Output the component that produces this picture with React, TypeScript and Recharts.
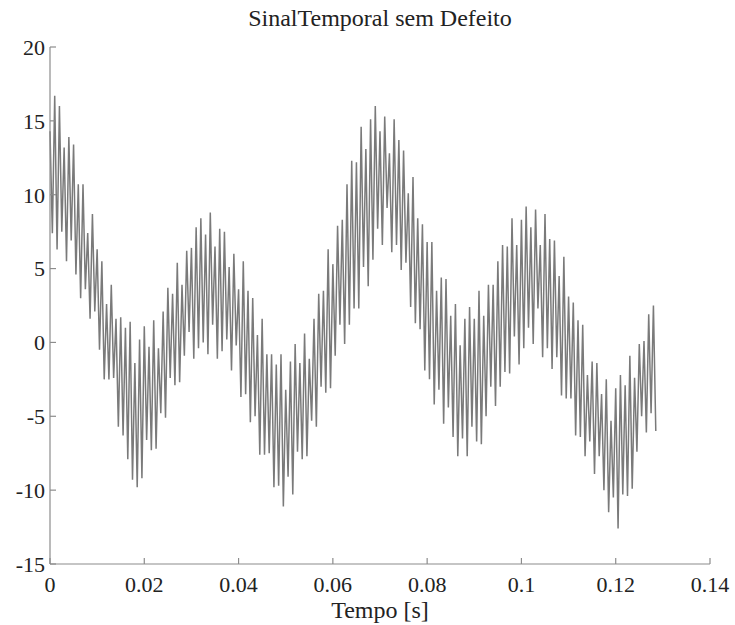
import { LineChart, Line, XAxis, YAxis } from 'recharts';

// samples, one every 0.5 ms (peaks and troughs of the fast oscillation)
const sampleStep = 0.0005;
const signal: number[] = [
  14.3, 7.4, 16.7, 6.3, 16.0, 7.5, 13.2, 5.5, 13.9, 6.9, 13.4, 4.6, 10.7, 3.0, 10.7, 3.6,
  7.4, 1.6, 8.7, 2.1, 6.3, -0.5, 5.5, -2.5, 2.6, -2.5, 3.9, -2.4, 1.6, -5.7, 1.7, -6.3,
  1.0, -7.9, 1.4, -9.3, -1.4, -9.8, 0.2, -9.2, 1.1, -6.6, -0.3, -7.3, 1.5, -7.2, -0.4, -4.8,
  2.1, -5.1, 3.7, -2.4, 3.3, -2.9, 5.4, -2.7, 3.9, -0.9, 6.2, 0.7, 6.4, -1.1, 7.8, -0.4,
  8.4, 0.0, 7.3, -0.8, 8.8, 1.2, 6.5, -1.1, 7.7, -0.6, 7.5, 0.2, 5.1, -1.9, 6.0, -0.2,
  3.6, -3.7, 5.5, -3.5, 3.5, -5.4, 3.0, -5.0, 0.5, -7.6, 1.6, -7.6, -0.8, -7.5, -0.8, -9.8,
  -1.5, -9.7, -0.8, -11.1, -3.2, -9.1, -1.3, -10.3, -0.1, -7.4, -1.4, -7.9, 0.6, -7.7, -1.1, -5.3,
  1.6, -5.7, 3.3, -3.0, 3.5, -3.4, 6.3, -3.1, 5.3, -0.9, 7.9, 1.2, 8.3, -0.1, 10.7, 1.2,
  12.3, 2.3, 12.2, 2.3, 14.6, 5.1, 13.1, 3.8, 15.1, 5.6, 16.0, 7.7, 14.3, 6.6, 15.3, 9.1,
  12.8, 6.1, 15.1, 6.6, 13.7, 4.9, 13.0, 5.4, 10.1, 2.4, 11.2, 1.3, 8.4, 0.9, 8.0, -1.9,
  6.8, -2.5, 6.8, -4.2, 3.5, -3.2, 4.4, -5.5, 4.3, -4.4, 1.8, -6.4, 2.6, -7.7, -0.2, -6.5,
  1.6, -7.7, 2.4, -5.7, 1.6, -6.7, 3.5, -6.9, 1.8, -5.0, 3.9, -3.0, 3.9, -4.3, 5.5, -3.0,
  6.6, -2.0, 6.5, -2.1, 8.4, 0.4, 6.6, -1.5, 8.3, -0.4, 9.2, 1.0, 7.8, -0.1, 9.0, 2.3,
  6.6, -1.0, 8.7, -0.4, 7.0, -1.8, 6.9, -1.0, 4.5, -3.6, 5.8, -3.8, 3.1, -3.8, 2.7, -6.3,
  1.5, -6.4, 1.2, -7.7, -2.2, -6.7, -1.3, -8.9, -1.4, -7.7, -3.5, -10.0, -2.5, -11.5, -5.3, -10.5,
  -3.1, -12.6, -2.2, -10.3, -2.9, -10.4, -0.9, -9.9, -2.4, -7.4, -0.1, -5.0, 0.1, -6.1, 1.9, -4.8,
  2.5, -6.0,
];

const xTicks = [0, 0.02, 0.04, 0.06, 0.08, 0.1, 0.12, 0.14];
const yTicks = [-15, -10, -5, 0, 5, 10, 15, 20];

const data = signal.map((value, i) => ({ t: i * sampleStep, value }));

const axisColor = '#8c8c8c';
const font = '"Liberation Serif", "DejaVu Serif", Times, serif';
const tickStyle = { fontSize: 22, fill: '#222', fontFamily: font };

export default function App() {
  return (
    <div style={{ position: 'absolute', left: 0, top: 0, width: 735, height: 625, background: '#fff' }}>
      <div
        style={{
          position: 'absolute', left: 50, top: 5, width: 660, textAlign: 'center',
          fontFamily: font, fontSize: 24, lineHeight: '26px', color: '#222',
        }}
      >
        SinalTemporal sem Defeito
      </div>
      <LineChart width={735} height={625} data={data} margin={{ top: 47, right: 25, bottom: 0, left: 0 }}>
        <XAxis
          dataKey="t"
          type="number"
          domain={[0, 0.14]}
          ticks={xTicks}
          height={61}
          stroke={axisColor}
          strokeWidth={1.2}
          tickSize={-6}
          tickMargin={18}
          tick={tickStyle}
          interval={0}
        />
        <XAxis
          xAxisId="top"
          orientation="top"
          dataKey="t"
          type="number"
          domain={[0, 0.14]}
          ticks={xTicks}
          height={0}
          stroke={axisColor}
          strokeWidth={1.2}
          tickSize={-6}
          tick={false}
          interval={0}
        />
        <YAxis
          type="number"
          domain={[-15, 20]}
          ticks={yTicks}
          width={50}
          stroke={axisColor}
          strokeWidth={1.2}
          tickSize={-6}
          tickMargin={11}
          tick={tickStyle}
          interval={0}
        />
        <YAxis
          yAxisId="right"
          orientation="right"
          type="number"
          domain={[-15, 20]}
          ticks={yTicks}
          width={0}
          stroke={axisColor}
          strokeWidth={1.2}
          tickSize={-6}
          tick={false}
          interval={0}
        />
        <Line
          type="linear"
          dataKey="value"
          stroke="#7a7a7a"
          strokeWidth={1.5}
          dot={false}
          activeDot={false}
          isAnimationActive={false}
        />
      </LineChart>
      <div
        style={{
          position: 'absolute', left: 50, top: 597, width: 660, textAlign: 'center',
          fontFamily: font, fontSize: 24, lineHeight: '26px', color: '#222',
        }}
      >
        Tempo [s]
      </div>
    </div>
  );
}
